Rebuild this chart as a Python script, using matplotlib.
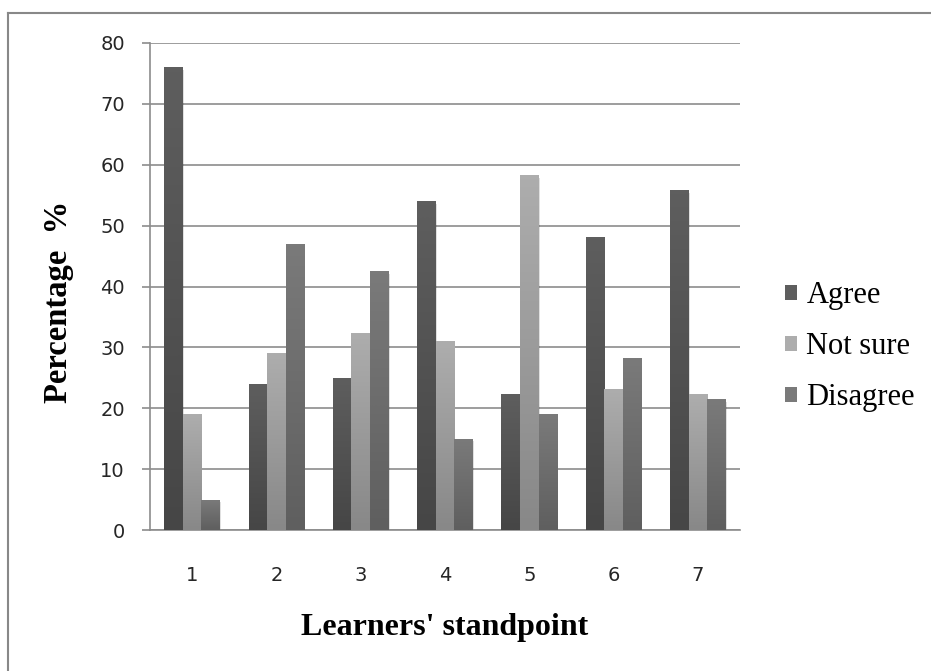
import numpy as np
import matplotlib
matplotlib.use("Agg")
import matplotlib.pyplot as plt
from matplotlib.patches import Patch
from matplotlib.lines import Line2D
from matplotlib.colors import LinearSegmentedColormap

# survey responses per learner standpoint (percent)
standpoints = ["1", "2", "3", "4", "5", "6", "7"]
agree = [76, 24, 25, 54, 22.3, 48.2, 55.8]
not_sure = [19, 29, 32.4, 31, 58.3, 23.2, 22.3]
disagree = [5, 47, 42.5, 15, 19, 28.2, 21.5]
series_names = ["Agree", "Not sure", "Disagree"]

# (top colour, bottom colour) for each series gradient
shades = [("#5e5e5e", "#464646"), ("#adadad", "#888888"), ("#7a7a7a", "#5f5f5f")]

fig = plt.figure(figsize=(9.31, 6.71), dpi=100)
ax = fig.add_axes([150 / 931, 1 - 530 / 671, 590 / 931, 487 / 671])

x = np.arange(len(standpoints))
w = 0.22
offsets = [-w, 0, w]

def gradient_bar(ax, bar, top, bottom):
    cmap = LinearSegmentedColormap.from_list("g", [bottom, top])
    x0, y0 = bar.get_x(), bar.get_y()
    img = ax.imshow(np.linspace(0, 1, 64).reshape(-1, 1), cmap=cmap, origin="lower",
                    extent=[x0, x0 + bar.get_width(), y0, y0 + bar.get_height()],
                    aspect="auto", zorder=bar.get_zorder(), interpolation="bilinear")
    img.set_clip_path(bar)

for vals, off, (top, bottom) in zip([agree, not_sure, disagree], offsets, shades):
    bars = ax.bar(x + off, vals, w, color=bottom, zorder=3, linewidth=0)
    for b in bars:
        # soft shadow behind each bar
        ax.bar(b.get_x() + b.get_width() / 2 + 0.012, b.get_height(), b.get_width(),
               bottom=-0.4, color="#000000", alpha=0.12, zorder=2, linewidth=0)
        gradient_bar(ax, b, top, bottom)

ax.set_xlim(-0.5, len(standpoints) - 0.5)
ax.set_ylim(0, 80)
ax.set_yticks(range(0, 81, 10))
ax.set_xticks(x)
ax.set_xticklabels(standpoints)

ax.grid(axis="y", color="#8c8c8c", linewidth=1.2, zorder=0)
ax.set_axisbelow(True)
for s in ["top", "right"]:
    ax.spines[s].set_visible(False)
ax.spines["left"].set_color("#8c8c8c")
ax.spines["bottom"].set_color("#8c8c8c")
ax.spines["left"].set_linewidth(1.2)
ax.spines["bottom"].set_linewidth(1.2)

ax.tick_params(axis="y", length=6, color="#8c8c8c", width=1.2, labelsize=14,
               labelcolor="#262626", pad=12)
ax.tick_params(axis="x", length=0, labelsize=14, labelcolor="#262626", pad=26)

ax.set_ylabel("Percentage  %", fontfamily="Liberation Serif", fontweight="bold",
              fontsize=23.5, va="center")
ax.yaxis.set_label_coords((58 - 150) / 590, (530 - 302) / 487)
ax.set_xlabel("Learners' standpoint", fontfamily="Liberation Serif", fontweight="bold",
              fontsize=23, va="center")
ax.xaxis.set_label_coords(0.5, (530 - 627) / 487)

handles = [Patch(facecolor=c[0], edgecolor="none") for c in shades]
fig.legend(handles, series_names, loc="center left", bbox_to_anchor=(785 / 931, 1 - 347 / 671),
           frameon=False, prop={"family": "Liberation Serif", "size": 22},
           handlelength=0.4, handleheight=0.4, handletextpad=0.3, labelspacing=0.72,
           borderpad=0, borderaxespad=0)

# outer chart frame (top and left edges)
fig.add_artist(Line2D([8 / 931, 1], [1 - 13 / 671, 1 - 13 / 671], color="#888888", linewidth=1.5))
fig.add_artist(Line2D([8 / 931, 8 / 931], [0, 1 - 13 / 671], color="#888888", linewidth=1.5))

fig.savefig("out.png", dpi=100)
